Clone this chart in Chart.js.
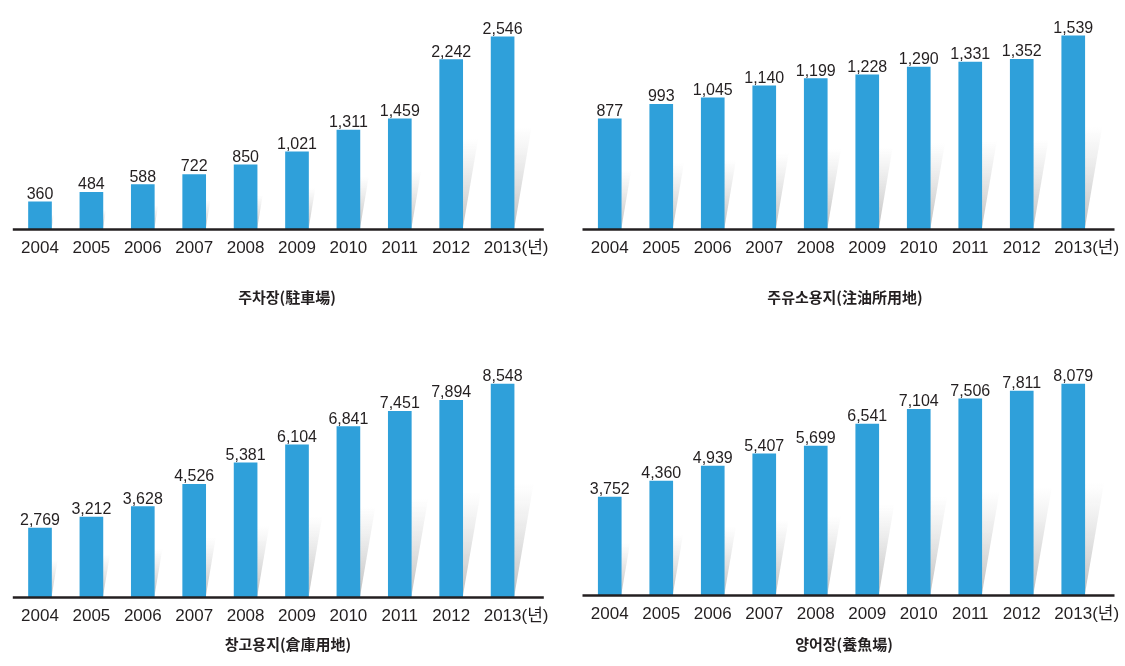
<!DOCTYPE html>
<html>
<head>
<meta charset="utf-8">
<script src="https://cdn.jsdelivr.net/npm/chart.js@4.4.1/dist/chart.umd.min.js"></script>
<style>
html, body { margin: 0; padding: 0; background: #fff; overflow: hidden; width: 1125px; height: 666px; }
canvas { position: absolute; }
</style>
</head>
<body>
<canvas id="c1" width="574" height="330" style="left:0;top:0"></canvas>
<canvas id="c2" width="570" height="330" style="left:560px;top:0"></canvas>
<canvas id="c3" width="576" height="326" style="left:0;top:340px"></canvas>
<canvas id="c4" width="568" height="326" style="left:560px;top:340px"></canvas>
<script>
// data
const years = ['2004', '2005', '2006', '2007', '2008', '2009', '2010', '2011', '2012', '2013'];
const yearUnit = '(년)';
const parking = [360, 484, 588, 722, 850, 1021, 1311, 1459, 2242, 2546];
const gasStation = [877, 993, 1045, 1140, 1199, 1228, 1290, 1331, 1352, 1539];
const warehouse = [2769, 3212, 3628, 4526, 5381, 6104, 6841, 7451, 7894, 8548];
const fishFarm = [3752, 4360, 4939, 5407, 5699, 6541, 7104, 7506, 7811, 8079];
const titles = ['주차장(駐車場)', '주유소용지(注油所用地)', '창고용지(倉庫用地)', '양어장(養魚場)'];

const TEXT = '#231f20';
const BAR = '#2fa0da';
const NUM_FONT = '"Liberation Sans", Arial, "Noto Sans CJK KR", sans-serif';

// grey slanted shadow on the right of every bar
const shadowPlugin = {
    id: 'barShadow',
    beforeDatasetsDraw(chart) {
        const ctx = chart.ctx;
        const base = chart.chartArea.bottom;
        ctx.save();
        chart.getDatasetMeta(0).data.forEach(bar => {
            const h = (base - bar.y) * 0.53;
            const right = bar.x + bar.width / 2;
            const g = ctx.createLinearGradient(0, base - h, 0, base);
            g.addColorStop(0, 'rgba(200,200,200,0)');
            g.addColorStop(1, 'rgba(180,180,180,0.85)');
            ctx.fillStyle = g;
            ctx.beginPath();
            ctx.moveTo(right, base);
            ctx.lineTo(right, base - h);
            ctx.lineTo(right + h * 0.175, base - h - 2);
            ctx.closePath();
            ctx.fill();
        });
        ctx.restore();
    }
};

// value labels, axis line and the (년) unit
const labelPlugin = {
    id: 'barLabels',
    afterDatasetsDraw(chart) {
        const ctx = chart.ctx;
        const area = chart.chartArea;
        const values = chart.data.datasets[0].data;
        ctx.save();
        ctx.font = '16px ' + NUM_FONT;
        ctx.fillStyle = TEXT;
        ctx.textAlign = 'center';
        ctx.textBaseline = 'alphabetic';
        chart.getDatasetMeta(0).data.forEach((bar, i) => {
            ctx.fillText(values[i].toLocaleString('en-US'), bar.x, bar.y - 3);
        });

        ctx.strokeStyle = TEXT;
        ctx.lineWidth = 2.5;
        ctx.beginPath();
        ctx.moveTo(area.left - 1.5, area.bottom + 0.5);
        ctx.lineTo(area.right + 15.5, area.bottom + 0.5);
        ctx.stroke();

        const items = chart.scales.x.getLabelItems();
        const last = items[items.length - 1];
        if (last) {
            ctx.font = '17px ' + NUM_FONT;
            const w = ctx.measureText(String(last.label)).width;
            ctx.textAlign = 'left';
            ctx.textBaseline = last.options.textBaseline;
            ctx.fillText(yearUnit, last.options.translation[0] + w / 2, last.options.translation[1] + last.textOffset);
        }
        ctx.restore();
    }
};

function makeChart(id, values, title, yMax, lay) {
    return new Chart(document.getElementById(id), {
        type: 'bar',
        data: {
            labels: years,
            datasets: [{
                data: values,
                backgroundColor: BAR,
                barThickness: 23
            }]
        },
        options: {
            responsive: false,
            animation: false,
            devicePixelRatio: 1,
            layout: { padding: 0, autoPadding: false },
            scales: {
                x: {
                    grid: { display: false, drawTicks: false },
                    border: { display: false },
                    ticks: {
                        color: TEXT,
                        font: { family: NUM_FONT, size: 17 },
                        padding: 9,
                        autoSkip: false,
                        maxRotation: 0
                    },
                    afterFit(s) { s.height = lay.xh; }
                },
                y: {
                    display: false,
                    min: 0,
                    max: yMax,
                    afterFit(s) { s.width = lay.left; }
                },
                y2: {
                    display: false,
                    position: 'right',
                    afterFit(s) { s.width = lay.right; }
                }
            },
            plugins: {
                legend: { display: false },
                tooltip: { enabled: false },
                title: {
                    display: true,
                    position: 'bottom',
                    text: title,
                    color: TEXT,
                    font: { family: '"Noto Sans CJK KR", sans-serif', size: 15, weight: 'bold' },
                    padding: { top: 0, bottom: lay.pb }
                }
            }
        },
        plugins: [shadowPlugin, labelPlugin]
    });
}

makeChart('c1', parking, titles[0], 3032, { left: 14.3, right: 45.7, xh: 59, pb: 24 });
makeChart('c2', gasStation, titles[1], 1825, { left: 24, right: 31, xh: 59, pb: 24 });
makeChart('c3', warehouse, titles[2], 10313, { left: 14.3, right: 47.7, xh: 38, pb: 13 });
makeChart('c4', fishFarm, titles[3], 9763, { left: 24, right: 29, xh: 40, pb: 13 });
</script>
</body>
</html>
